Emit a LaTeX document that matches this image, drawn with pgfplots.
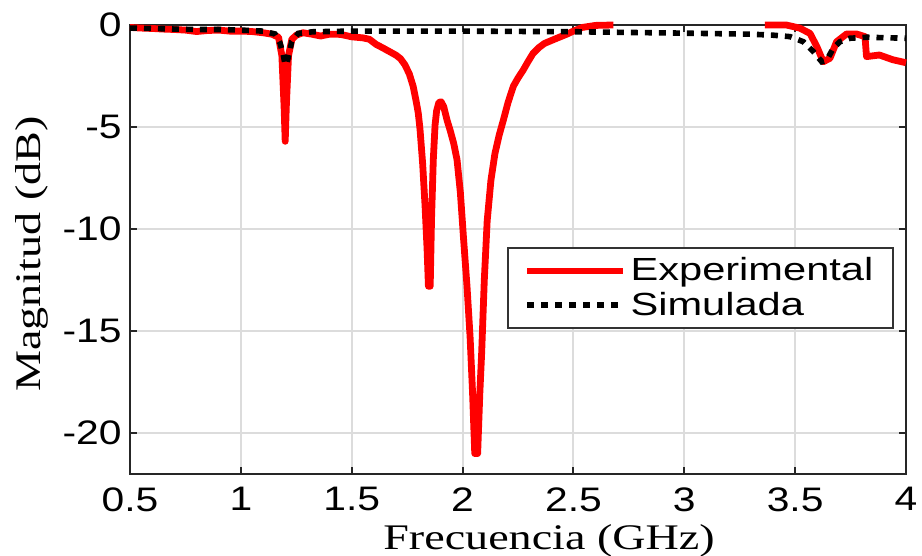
\documentclass[border=0pt]{standalone}
\usepackage{fontspec}
\usepackage{pgfplots}
\pgfplotsset{compat=1.18}
\setmainfont{Liberation Serif}
\newfontfamily\tsf[FakeStretch=1.2]{Liberation Sans}
\newfontfamily\gsf[FakeStretch=1.3]{Liberation Sans}
\newfontfamily\lsf[FakeStretch=1.28]{Liberation Serif}
\definecolor{gridc}{RGB}{220,220,220}
\begin{document}
\begin{tikzpicture}
\useasboundingbox (-65pt,-41pt) rectangle (396pt,237pt);
\begin{axis}[
  at={(0,0)}, anchor=south west,
  scale only axis, width=388pt, height=224.5pt,
  xmin=0.5, xmax=4, ymin=-22, ymax=0,
  clip=false,
  unbounded coords=jump,
  xtick={0.5,1,1.5,2,2.5,3,3.5,4},
  xticklabels={0.5,1,1.5,2,2.5,3,3.5,4},
  ytick={-20,-15,-10,-5,0},
  yticklabels={-20,-15,-10,-5,0},
  tick align=inside,
  major tick length=3.5pt,
  tick style={black!85, line width=1pt},
  axis line style={black!85, line width=1pt},
  grid=major,
  major grid style={gridc, line width=1pt},
  ticklabel style={font=\tsf\fontsize{17}{20}\selectfont},
  xticklabel style={inner sep=0pt, yshift=-6.5pt},
  yticklabel style={inner sep=0pt, xshift=-4pt},
  xlabel={Frecuencia (GHz)},
  ylabel={Magnitud (dB)},
  label style={font=\lsf\fontsize{18}{21}\selectfont},
  xlabel style={at={(axis description cs:0.54,-0.148)}, anchor=center},
  ylabel style={at={(axis description cs:-0.126,0.49)}, anchor=center},
  legend style={at={(axis description cs:0.985,0.506)}, anchor=north east,
    draw=black!80, line width=1pt, inner xsep=8pt, inner ysep=3pt,
    font=\gsf\fontsize{16}{18}\selectfont, row sep=0pt,
    cells={anchor=west}},
  legend image code/.code={\draw[#1] (0pt,0pt) -- (48pt,0pt);},
]
\addplot[red, line width=3.4pt, line join=round] coordinates {
(0.50,-0.12) (0.55,-0.15) (0.60,-0.17) (0.65,-0.20) (0.70,-0.22) (0.75,-0.25)
(0.80,-0.32) (0.85,-0.27) (0.90,-0.25) (0.95,-0.30) (1.00,-0.30) (1.05,-0.32)
(1.10,-0.38) (1.14,-0.45) (1.17,-0.60) (1.185,-1.5) (1.195,-4.0) (1.200,-5.7)
(1.205,-4.0) (1.215,-1.5) (1.23,-0.70) (1.25,-0.50) (1.28,-0.38) (1.32,-0.45)
(1.36,-0.54) (1.40,-0.45) (1.45,-0.46) (1.50,-0.58) (1.55,-0.63) (1.58,-0.70)
(1.61,-0.95) (1.64,-1.12) (1.67,-1.30) (1.70,-1.48) (1.72,-1.65) (1.74,-1.95)
(1.76,-2.4) (1.777,-3.0) (1.79,-3.7) (1.80,-4.3) (1.808,-5.1) (1.82,-6.8)
(1.831,-8.9) (1.84,-11.0) (1.846,-12.8) (1.854,-12.8) (1.860,-9.5) (1.868,-6.6)
(1.876,-4.9) (1.883,-4.2) (1.893,-3.8) (1.903,-3.76) (1.915,-4.0) (1.93,-4.66)
(1.945,-5.2) (1.96,-5.8) (1.975,-6.6) (1.99,-8.2) (2.004,-10.4) (2.02,-12.8)
(2.034,-15.3) (2.045,-18.0) (2.055,-21) (2.068,-21) (2.078,-18.0) (2.086,-16.1)
(2.098,-12.5) (2.111,-9.6) (2.128,-7.6) (2.146,-6.3) (2.165,-5.4) (2.184,-4.66)
(2.205,-3.8) (2.229,-3.0) (2.25,-2.6) (2.274,-2.2) (2.295,-1.8) (2.318,-1.39)
(2.345,-1.10) (2.37,-0.90) (2.425,-0.65) (2.47,-0.45) (2.50,-0.30) (2.54,-0.12)
(2.60,-0.02) (2.68,0.0) (2.70,nan)
(3.364,0.0) (3.46,0.0) (3.52,-0.15) (3.567,-0.41) (3.598,-1.06) (3.627,-1.8)
(3.657,-1.63) (3.687,-0.82) (3.732,-0.44) (3.777,-0.44) (3.815,-0.57)
(3.822,-1.55) (3.88,-1.47) (3.94,-1.70) (4.00,-1.85)
};
\addlegendentry{Experimental}
\addplot[black, line width=2.8pt, dash pattern=on 3.5pt off 3.5pt, line cap=butt] coordinates {
(0.50,-0.15) (0.60,-0.17) (0.70,-0.20) (0.80,-0.22) (0.90,-0.22) (1.00,-0.25)
(1.10,-0.30) (1.154,-0.44) (1.177,-0.90) (1.19,-1.40) (1.20,-1.95) (1.207,-1.90)
(1.219,-1.35) (1.229,-0.82) (1.259,-0.41) (1.327,-0.33) (1.50,-0.30) (2.00,-0.30)
(2.50,-0.33) (3.00,-0.40) (3.30,-0.45) (3.40,-0.50) (3.477,-0.57) (3.537,-0.82)
(3.582,-1.30) (3.62,-1.80) (3.642,-1.73) (3.672,-1.14) (3.702,-0.82) (3.747,-0.65)
(3.822,-0.60) (4.00,-0.65)
};
\addlegendentry{Simulada}
\end{axis}
\end{tikzpicture}
\end{document}
